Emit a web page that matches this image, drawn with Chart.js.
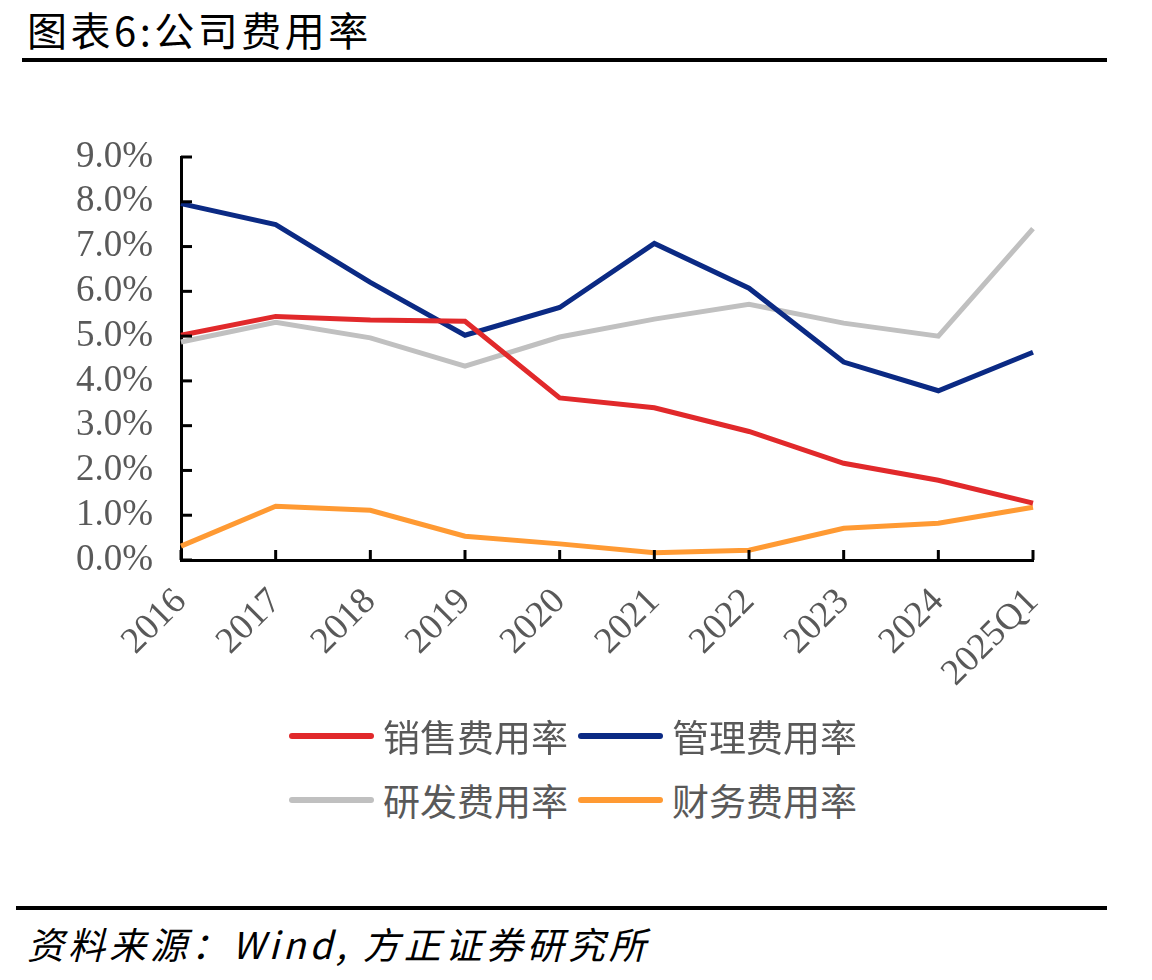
<!DOCTYPE html>
<html>
<head>
<meta charset="utf-8">
<script src="https://cdn.jsdelivr.net/npm/chart.js@4.4.1/dist/chart.umd.min.js"></script>
<style>
  body { margin: 0; background: #fff; width: 1152px; height: 980px; position: relative; overflow: hidden; }
  #title { position: absolute; left: 27px; top: 0px; font-family: "Noto Sans CJK SC"; font-size: 40px; letter-spacing: 3.5px; color: #000; }
  .rule { position: absolute; height: 4px; background: #000; }
  #box { position: absolute; left: 0; top: 100px; width: 1152px; height: 620px; }
  #legend { position: absolute; left: 289px; top: 709px; width: 620px; font-family: "Noto Sans CJK SC"; font-size: 37px; color: #595959; }
  .item { position: absolute; display: flex; align-items: center; height: 54px; }
  .swatch { width: 85px; height: 6px; border-radius: 3px; margin-right: 9px; }
  #source { position: absolute; left: 27px; top: 916px; font-family: "Noto Sans CJK SC"; font-style: italic; font-size: 37px; letter-spacing: 4px; color: #000; }
</style>
</head>
<body>
<div id="title">图表6:公司费用率</div>
<div class="rule" style="left:22px; top:58px; width:1085px;"></div>
<div id="box"><canvas id="chart" width="1152" height="620"></canvas></div>
<div id="legend"></div>
<div class="rule" style="left:16px; top:906px; width:1091px;"></div>
<div id="source">资料来源：Wind, 方正证券研究所</div>

<script>
// 类目与数据（单位：%）
const categories = ["2016", "2017", "2018", "2019", "2020", "2021", "2022", "2023", "2024", "2025Q1"];
const salesRate   = [5.02, 5.44, 5.36, 5.33, 3.62, 3.40, 2.87, 2.16, 1.78, 1.27];
const adminRate   = [7.96, 7.49, 6.20, 5.02, 5.64, 7.07, 6.07, 4.42, 3.78, 4.64];
const rdRate      = [4.87, 5.31, 4.96, 4.33, 4.98, 5.38, 5.71, 5.29, 5.00, 7.40];
const financeRate = [0.31, 1.20, 1.11, 0.53, 0.36, 0.16, 0.22, 0.71, 0.82, 1.18];
const seriesNames = ["销售费用率", "管理费用率", "研发费用率", "财务费用率"];
const seriesColors = ["#E1292B", "#0B2A84", "#C0C0C0", "#FF9A33"];

const seriesData = [salesRate, adminRate, rdRate, financeRate];

// 刻度线画在坐标轴内侧
const insideTicks = {
  id: 'insideTicks',
  afterDraw(chart) {
    const ctx = chart.ctx;
    const xs = chart.scales.x, ys = chart.scales.y;
    const area = chart.chartArea;
    ctx.save();
    ctx.strokeStyle = '#000';
    ctx.lineWidth = 3;
    ys.ticks.forEach((t, i) => {
      const y = ys.getPixelForTick(i);
      ctx.beginPath();
      ctx.moveTo(area.left, y);
      ctx.lineTo(area.left + 11, y);
      ctx.stroke();
    });
    xs.ticks.forEach((t, i) => {
      const x = xs.getPixelForTick(i);
      ctx.beginPath();
      ctx.moveTo(x, area.bottom);
      ctx.lineTo(x, area.bottom - 10);
      ctx.stroke();
    });
    ctx.restore();
  }
};

const ctx = document.getElementById('chart').getContext('2d');
const chart = new Chart(ctx, {
  type: 'line',
  data: {
    labels: categories,
    datasets: seriesNames.map((name, i) => ({
      label: name,
      data: seriesData[i],
      borderColor: seriesColors[i],
      backgroundColor: seriesColors[i],
      borderWidth: 5,
      pointRadius: 0,
      tension: 0,
      fill: false
    }))
  },
  options: {
    responsive: false,
    animation: false,
    layout: { padding: { top: 57, right: 119, left: 0, bottom: 0 } },
    plugins: { legend: { display: false }, tooltip: { enabled: false } },
    scales: {
      x: {
        offset: false,
        grid: { display: true, drawOnChartArea: false, drawTicks: false },
        border: { display: true, color: '#000', width: 3 },
        ticks: {
          color: '#595959',
          font: { family: 'Liberation Serif', size: 37 },
          minRotation: 45,
          maxRotation: 45,
          padding: 20,
          autoSkip: false
        },
        afterFit(scale) { scale.height = 160; }
      },
      y: {
        min: 0,
        max: 9,
        grid: { display: true, drawOnChartArea: false, drawTicks: false },
        border: { display: true, color: '#000', width: 3 },
        ticks: {
          stepSize: 1,
          autoSkip: false,
          color: '#595959',
          font: { family: 'Liberation Serif', size: 37 },
          padding: 28,
          callback: v => v.toFixed(1) + '%'
        },
        afterFit(scale) { scale.width = 181; }
      }
    }
  },
  plugins: [insideTicks]
});

// 图例：两行两列
const legend = document.getElementById('legend');
const legendPos = [[0, 0], [289, 0], [0, 64], [289, 64]];
seriesNames.forEach((name, i) => {
  const item = document.createElement('div');
  item.className = 'item';
  item.style.left = legendPos[i][0] + 'px';
  item.style.top = legendPos[i][1] + 'px';
  item.innerHTML = '<div class="swatch" style="background:' + seriesColors[i] + '"></div><span>' + name + '</span>';
  legend.appendChild(item);
});
</script>
</body>
</html>
